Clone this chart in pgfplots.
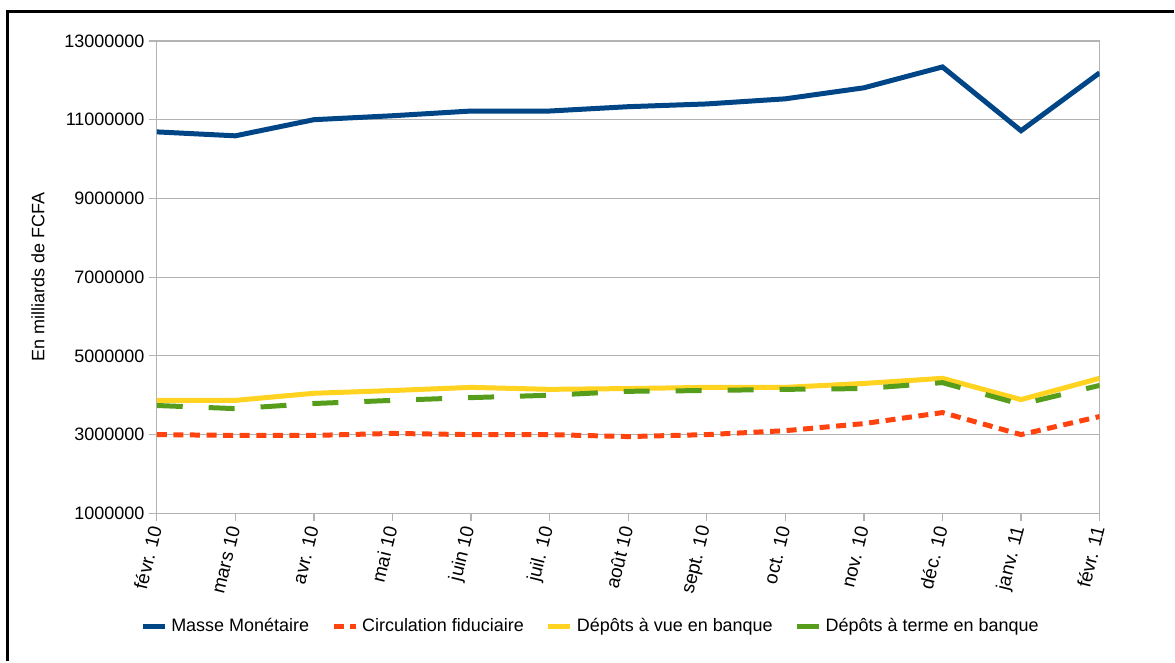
\documentclass[border=0pt]{standalone}
\usepackage{fontspec}
\setmainfont{Liberation Sans}
\usepackage{pgfplots}
\pgfplotsset{compat=1.18}
\definecolor{cMasse}{HTML}{004586}
\definecolor{cCirc}{HTML}{FF420E}
\definecolor{cVue}{HTML}{FFD320}
\definecolor{cTerme}{HTML}{579D1C}
\definecolor{cGrid}{HTML}{B3B3B3}

\begin{document}
\begin{tikzpicture}
  % page size: 1 px of the reference = 0.5pt
  \path (0pt,0pt) rectangle (587.5pt,-331pt);
  % frame of the original (only left and top edges are visible)
  \draw[line width=1.5pt] (3.75pt,-331pt) -- (3.75pt,-5.75pt) -- (587.5pt,-5.75pt);
  \begin{axis}[
      at={(78.5pt,-257pt)}, anchor=south west,
      scale only axis,
      width=472pt, height=236.5pt,
      xmin=0, xmax=12,
      ymin=1000000, ymax=13000000,
      ytick={1000000,3000000,5000000,7000000,9000000,11000000,13000000},
      xtick={0,...,12},
      xticklabels={févr. 10, mars 10, avr. 10, mai 10, juin 10, juil. 10, août 10,
                   sept. 10, oct. 10, nov. 10, déc. 10, janv. 11, févr. 11},
      scaled y ticks=false,
      /pgf/number format/.cd, fixed, precision=0, 1000 sep={}, assume math mode=true,
      /pgfplots/.cd,
      ymajorgrids,
      grid style={cGrid, line width=0.6pt},
      axis line style={cGrid, line width=0.6pt},
      tick style={cGrid, line width=0.6pt},
      tick align=outside,
      major tick length=4pt,
      xtick pos=bottom, ytick pos=left,
      ticklabel style={font=\fontsize{9}{10}\selectfont, black},
      xticklabel style={rotate=76, anchor=east, inner sep=2.5pt,
                        font=\fontsize{9.5}{10}\selectfont},
      yticklabel style={inner sep=2pt},
      ylabel={En milliards de FCFA},
      ylabel style={at={(axis description cs:-0.126,0.5)}, anchor=center,
                    font=\fontsize{9}{10}\selectfont},
      legend columns=-1,
      legend style={
        at={(axis description cs:0.461,-0.239)}, anchor=center,
        draw=none, fill=none,
        font=\fontsize{9}{10}\selectfont,
        /tikz/every even column/.append style={column sep=9pt},
        /tikz/every odd column/.append style={column sep=0pt},
      },
      legend image code/.code={\draw[#1] (0pt,0pt) -- (11pt,0pt);},
    ]
    \addplot[cMasse, line width=2.5pt] coordinates {
      (0,10690000) (1,10590000) (2,11000000) (3,11100000) (4,11220000)
      (5,11220000) (6,11330000) (7,11400000) (8,11530000) (9,11810000)
      (10,12340000) (11,10720000) (12,12190000)
    };
    \addlegendentry{Masse Monétaire}
    \addplot[cCirc, line width=2.5pt, dash pattern=on 5pt off 3.3pt] coordinates {
      (0,3000000) (1,2980000) (2,2980000) (3,3030000) (4,3000000)
      (5,3000000) (6,2950000) (7,3000000) (8,3100000) (9,3280000)
      (10,3560000) (11,3000000) (12,3460000)
    };
    \addlegendentry{Circulation fiduciaire}
    \addplot[cVue, line width=2.5pt] coordinates {
      (0,3870000) (1,3870000) (2,4050000) (3,4120000) (4,4200000)
      (5,4150000) (6,4170000) (7,4200000) (8,4200000) (9,4300000)
      (10,4430000) (11,3890000) (12,4430000)
    };
    \addlegendentry{Dépôts à vue en banque}
    \addplot[cTerme, line width=2.5pt, dash pattern=on 13pt off 13pt] coordinates {
      (0,3740000) (1,3660000) (2,3790000) (3,3870000) (4,3940000)
      (5,4000000) (6,4100000) (7,4120000) (8,4150000) (9,4170000)
      (10,4320000) (11,3770000) (12,4250000)
    };
    \addlegendentry{Dépôts à terme en banque}
  \end{axis}
\end{tikzpicture}
\end{document}
